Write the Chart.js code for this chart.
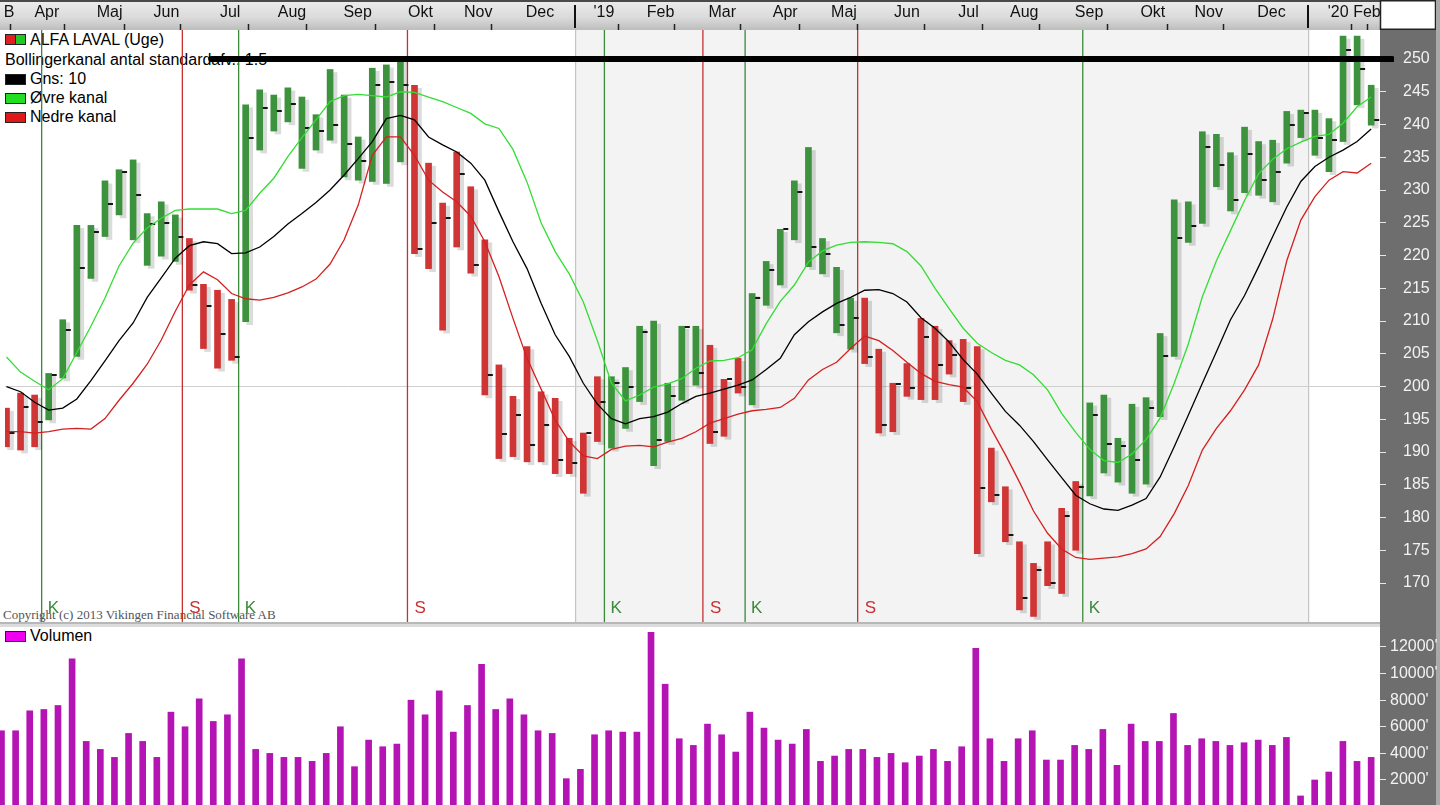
<!DOCTYPE html>
<html lang="da">
<head>
<meta charset="utf-8">
<title>ALFA LAVAL (Uge)</title>
<script src="https://cdn.jsdelivr.net/npm/chart.js@4.4.1/dist/chart.umd.min.js"></script>
<style>
html,body{margin:0;padding:0;background:#fff;}
body{width:1440px;height:805px;overflow:hidden;position:relative;font-family:"Liberation Sans",Arial,sans-serif;}
canvas{position:absolute;left:0;z-index:1;}
#priceCanvas{top:0;}
#volCanvas{top:627px;}
.lg{position:absolute;z-index:0;font-size:16px;line-height:18px;color:#000;white-space:nowrap;}
.sw{position:absolute;left:5px;width:19px;height:9px;border:1px solid #222;z-index:0;}
#copy{position:absolute;z-index:0;left:3px;top:607px;font-family:"Liberation Serif","Times New Roman",serif;font-size:13px;color:#555;white-space:nowrap;}
</style>
</head>
<body>
<div class="sw" style="top:34px;background:linear-gradient(90deg,#e02020 0,#e02020 45%,#222 45%,#222 55%,#22c822 55%)"></div>
<div class="lg" style="left:30px;top:31px">ALFA LAVAL (Uge)</div>
<div class="lg" style="left:5px;top:51px">Bollingerkanal antal standardafv.: 1.5</div>
<div class="sw" style="top:74px;background:#000"></div>
<div class="lg" style="left:30px;top:70px">Gns: 10</div>
<div class="sw" style="top:93px;background:#22dd22"></div>
<div class="lg" style="left:30px;top:89px">Øvre kanal</div>
<div class="sw" style="top:112px;background:#e01818"></div>
<div class="lg" style="left:30px;top:108px">Nedre kanal</div>
<div id="copy">Copyright (c) 2013 Vikingen Financial Software AB</div>
<div class="sw" style="top:631px;background:#f000f0"></div>
<div class="lg" style="left:30px;top:627px">Volumen</div>

<canvas id="priceCanvas" width="1440" height="627"></canvas>
<canvas id="volCanvas" width="1440" height="178"></canvas>

<script>
// ---------- DATA (weekly bars, index 0..97) ----------
const lows = [190.8,190.3,190.8,194.9,201.3,204.6,216.5,222.9,226.2,222.4,
  218.5,219.9,219.1,214.7,205.8,202.8,204.0,209.9,236.1,239.0,
  240.4,233.3,236.1,237.6,232.0,231.5,231.3,231.0,234.3,220.3,
  218.0,208.6,221.3,217.3,198.7,189.0,189.3,188.5,188.5,186.7,
  186.7,183.7,191.6,190.6,193.6,197.7,187.9,191.6,197.9,200.2,
  191.3,192.4,199.0,197.2,212.4,215.5,222.4,218.3,217.2,208.2,
  205.7,203.5,192.9,193.1,198.5,198.0,198.0,201.9,197.7,174.5,
  182.4,176.3,165.9,164.9,169.6,168.4,175.0,183.3,186.8,185.4,
  183.7,185.1,195.4,204.6,222.0,224.9,230.5,226.8,229.6,229.2,
  228.2,234.1,238.0,235.3,232.8,237.4,243.0,239.9];
const highs = [196.7,199.0,198.7,202.0,210.2,224.6,224.6,231.4,233.1,234.6,
  226.4,228.2,226.2,222.6,215.6,214.7,213.3,243.0,245.3,244.5,
  245.6,244.2,241.5,248.4,244.5,238.1,248.6,249.1,250.0,246.0,
  234.1,228.0,235.8,230.5,222.4,203.3,198.5,206.1,199.2,198.2,
  192.1,192.9,201.5,201.5,202.9,209.2,210.0,200.5,209.2,209.2,
  206.3,201.1,204.3,214.2,219.1,224.0,231.4,236.5,222.6,218.2,
  213.5,213.5,205.7,200.5,203.5,210.4,209.2,207.0,207.2,206.1,
  190.6,184.7,176.3,173.0,176.3,181.4,185.5,197.5,198.7,192.1,
  197.3,198.3,208.1,228.5,228.2,238.9,238.5,235.7,239.6,237.4,
  237.6,242.0,242.2,242.2,240.9,253.5,253.5,246.0];
const closes = [192.9,196.9,194.6,201.7,208.6,218.1,223.6,227.9,232.8,229.3,
  224.8,225.0,222.9,215.5,212.3,208.0,204.5,238.0,242.5,242.0,
  243.2,239.5,239.0,240.0,237.0,234.5,246.0,246.5,246.0,221.0,
  224.9,225.8,232.5,218.5,201.8,192.7,195.6,191.1,194.1,188.8,
  188.3,192.9,197.7,200.5,200.0,208.4,191.8,198.5,209.1,202.1,
  193.1,201.1,200.0,213.5,217.8,224.0,229.7,221.3,220.3,209.4,
  210.4,204.5,194.1,200.4,199.7,207.6,203.3,204.8,199.8,184.5,
  183.4,177.3,167.7,172.0,170.0,180.2,184.6,195.6,191.2,190.9,
  188.8,196.7,204.7,222.6,224.5,236.6,233.8,228.4,235.5,231.6,
  232.8,239.9,241.7,238.0,237.6,251.4,248.4,240.7];
const ma10 = [200.0,199.2,197.6,196.4,196.7,198.1,200.9,203.9,207.0,209.7,
  213.6,216.6,219.6,221.5,222.1,221.8,220.3,220.4,221.3,222.9,
  224.8,226.4,228.1,230.0,232.3,234.8,237.4,240.9,241.4,240.7,
  238.1,236.9,235.8,234.1,231.5,226.7,222.1,218.0,212.7,207.9,
  204.6,200.5,197.3,195.1,194.3,195.1,195.4,196.1,197.4,198.5,
  199.0,199.6,200.2,201.0,202.6,204.3,207.9,209.9,211.4,212.7,
  213.6,214.7,214.8,214.2,212.9,210.5,208.9,206.8,204.1,201.9,
  199.0,196.2,194.1,191.6,188.8,186.1,183.4,182.1,181.3,181.1,
  181.9,182.9,186.2,190.8,195.6,200.5,205.3,210.2,213.9,218.3,
  222.9,227.4,231.3,233.6,235.0,236.1,237.4,239.3];
const upperBand = [204.5,202.2,200.8,199.5,201.2,205.2,209.2,213.5,218.4,221.9,
  224.2,225.7,226.9,227.1,227.1,227.1,226.4,226.9,229.5,231.8,
  235.1,238.0,240.7,243.5,244.4,244.6,244.4,244.2,245.0,244.9,
  244.2,243.5,242.6,241.7,240.1,239.4,236.2,231.2,225.0,220.6,
  217.2,212.9,207.0,200.5,197.8,198.7,199.9,200.4,201.2,202.8,
  203.9,204.0,204.4,205.6,209.6,213.0,215.5,219.0,220.7,221.6,
  222.0,222.1,222.0,221.8,220.6,218.4,215.0,211.9,208.9,206.6,
  205.2,204.0,203.3,201.8,199.5,195.9,193.0,190.4,188.7,188.4,
  189.7,191.9,195.2,200.5,206.5,213.7,219.2,223.8,228.4,232.5,
  234.7,236.3,237.3,238.2,238.5,240.2,242.7,244.2];
const lowerBand = [193.1,193.1,192.9,193.1,193.5,193.6,193.5,195.1,197.9,200.5,
  203.4,207.1,211.5,215.5,217.5,216.3,214.2,213.4,213.2,213.6,
  214.3,215.2,216.4,218.7,222.4,227.7,235.3,238.1,238.1,235.3,
  231.5,229.7,228.2,226.0,222.1,216.8,210.4,204.3,199.6,194.9,
  191.6,189.4,189.0,190.4,190.9,191.0,190.8,191.5,192.1,193.1,
  194.4,195.1,195.8,196.3,196.5,196.8,198.2,201.0,202.6,203.7,
  205.8,207.7,207.0,205.5,203.7,202.0,200.8,200.3,199.9,197.7,
  193.5,189.6,185.4,181.0,177.6,175.2,173.9,173.6,173.8,174.0,
  174.5,175.2,177.1,180.6,184.9,190.3,193.6,196.3,199.5,203.3,
  210.3,219.2,225.4,229.0,231.5,232.8,232.6,234.1];
const volume = [5700,5700,7200,7300,7600,11100,4900,4300,3700,5500,
  4900,3700,7100,6000,8100,6400,6900,11100,4300,4000,
  3700,3700,3400,4000,6000,3000,5000,4500,4700,8000,
  6900,8700,5600,7600,10700,7300,8100,6900,5700,5500,
  2100,2800,5400,5700,5600,5600,13100,9200,5100,4600,
  6200,5400,4100,7100,5900,5000,4700,5800,3400,3800,
  4300,4300,3700,4000,3300,3800,4300,3400,4500,11900,
  5100,3400,5100,5700,3500,3500,4600,4300,5800,3100,
  6200,4900,4900,7000,4600,5100,4900,4600,4800,5000,
  4600,5200,800,2000,2600,4900,3400,3700];
const buySignals = [3, 17, 43, 53, 77];     // "K"
const sellSignals = [13, 29, 50, 61];       // "S"
const resistanceLevel = 250;
const resistanceFrom = 14.55, resistanceTo = 98.5;   // week span of the drawn level line
const monthLabels   = ['B','Apr','Maj','Jun','Jul','Aug','Sep','Okt','Nov','Dec',"'19",'Feb','Mar','Apr','Maj','Jun','Jul','Aug','Sep','Okt','Nov','Dec',"'20",'Feb'];
const monthLabelPos = [0.18,2.87,7.33,11.37,15.90,20.29,24.96,29.43,33.53,37.92,42.46,46.49,50.88,55.35,59.53,64.00,68.38,72.34,76.95,81.48,85.45,89.91,94.65,96.70];
const monthTickPos  = [0.39,5.35,9.45,13.42,18.45,22.34,27.44,31.48,35.45,44.51,48.48,53.51,57.40,61.51,66.54,70.43,74.47,79.57,83.54,87.51,96.57];
const yearBounds    = [40.40, 92.53];
const priceTicks  = [170,175,180,185,190,195,200,205,210,215,220,225,230,235,240,245,250];
const volumeTicks = [2000,4000,6000,8000,10000,12000];

// ---------- layout constants ----------
const X_MIN = -0.106, X_MAX = 97.627;
const P_MIN = 164.05, P_MAX = 254.43;
const V_MIN = 120, V_MAX = 13500;
const GREEN = '#3d923d', RED = '#cf3535';

Chart.defaults.font.family = "'Liberation Sans', Arial, sans-serif";

const allSignals = buySignals.map(i => [i, 'K']).concat(sellSignals.map(i => [i, 'S'])).sort((a, b) => a[0] - b[0]);
const barColors = lows.map((_, i) => {
  let st = 'S';
  allSignals.forEach(s => { if (s[0] <= i) st = s[1]; });
  return st === 'K' ? GREEN : RED;
});

const tickImg = document.createElement('canvas');
tickImg.width = 18; tickImg.height = 2;
const tctx = tickImg.getContext('2d');
tctx.fillStyle = '#151515'; tctx.fillRect(12, 0, 5, 2);

const headerTicks = monthLabelPos.map((v, i) => ({ value: v, lbl: monthLabels[i] }))
  .concat(monthTickPos.map(v => ({ value: v, lbl: '' })))
  .sort((a, b) => a.value - b.value);

const shadowPlugin = {
  id: 'shadowPlugin',
  beforeDatasetDraw(chart, args) {
    const ds = chart.data.datasets[args.index];
    if (ds.shadow) {
      const c = chart.ctx; c.save();
      c.shadowColor = 'rgba(0,0,0,0.14)'; c.shadowOffsetX = 4; c.shadowOffsetY = 3; c.shadowBlur = 0;
    }
  },
  afterDatasetDraw(chart, args) {
    const ds = chart.data.datasets[args.index];
    if (ds.shadow) chart.ctx.restore();
  }
};

const pricePanel = {
  id: 'pricePanel',
  beforeDraw(chart) {
    const c = chart.ctx, a = chart.chartArea, xs = chart.scales.x;
    c.save();
    const x0 = xs.getPixelForValue(yearBounds[0]), x1 = xs.getPixelForValue(yearBounds[1]);
    c.fillStyle = '#f3f3f3'; c.fillRect(x0, a.top, x1 - x0, a.bottom - a.top);
    c.fillStyle = '#c4c4c4';
    yearBounds.forEach(v => c.fillRect(Math.round(xs.getPixelForValue(v)), a.top, 1.2, a.bottom - a.top));
    const g = c.createLinearGradient(0, 0, 0, 30);
    g.addColorStop(0, '#ededed'); g.addColorStop(0.6, '#dadada'); g.addColorStop(1, '#bdbdbd');
    c.fillStyle = g; c.fillRect(0, 0, a.right, 30);
    c.fillStyle = '#4a4a4a'; c.fillRect(0, 0, a.right, 2);
    c.fillStyle = '#fff'; c.fillRect(a.right, 0, 56, 30);
    c.strokeStyle = '#222'; c.lineWidth = 1.5; c.strokeRect(a.right + 0.5, 0.75, 55, 28.5);
    c.fillStyle = '#6e6e6e'; c.fillRect(a.right, 30, 56, chart.height - 30);
    c.fillStyle = '#a9a9a9'; c.fillRect(a.right + 56, 0, 4, chart.height);
    c.restore();
  },
  afterDraw(chart) {
    const c = chart.ctx, a = chart.chartArea, xs = chart.scales.x;
    c.save();
    c.fillStyle = '#111';
    yearBounds.forEach(v => c.fillRect(Math.round(xs.getPixelForValue(v)) - 1, 5, 2, 23));
    c.font = "17px 'Liberation Sans', Arial, sans-serif";
    c.textBaseline = 'alphabetic';
    buySignals.forEach(i => { c.fillStyle = '#3a8a3a'; c.fillText('K', xs.getPixelForValue(i - 0.5) + 6, 613); });
    sellSignals.forEach(i => { c.fillStyle = '#c83030'; c.fillText('S', xs.getPixelForValue(i - 0.5) + 7, 613); });
    c.fillStyle = '#b8b8b8'; c.fillRect(0, a.bottom, a.right, 2);
    c.fillStyle = '#dcdcdc'; c.fillRect(0, a.bottom + 2, a.right, 3);
    c.restore();
  }
};

const volPanel = {
  id: 'volPanel',
  beforeDraw(chart) {
    const c = chart.ctx, a = chart.chartArea;
    c.save();
    c.fillStyle = '#6e6e6e'; c.fillRect(a.right, 0, 56, chart.height);
    c.fillStyle = '#a9a9a9'; c.fillRect(a.right + 56, 0, 4, chart.height);
    c.restore();
  }
};

const signalDatasets = buySignals.map(i => ({ c: '#3a8a3a', i })).concat(sellSignals.map(i => ({ c: '#c83030', i })))
  .map(s => ({
    type: 'line', order: 20, data: [{ x: s.i - 0.5, y: P_MIN }, { x: s.i - 0.5, y: P_MAX }],
    borderColor: s.c, borderWidth: 1.3, pointRadius: 0
  }));

new Chart(document.getElementById('priceCanvas'), {
  type: 'bar',
  data: {
    datasets: [
      { type: 'line', order: 1, data: [{ x: resistanceFrom, y: resistanceLevel }, { x: resistanceTo, y: resistanceLevel }],
        borderColor: '#000', borderWidth: 6, borderCapStyle: 'round', pointRadius: 0,
        clip: { left: 0, top: 0, right: 14, bottom: 0 } },
      { type: 'line', order: 2, data: ma10.map((v, i) => ({ x: i, y: v })), borderColor: '#000', borderWidth: 1.3, pointRadius: 0 },
      { type: 'line', order: 2, data: upperBand.map((v, i) => ({ x: i, y: v })), borderColor: '#33dd33', borderWidth: 1.3, pointRadius: 0 },
      { type: 'line', order: 2, data: lowerBand.map((v, i) => ({ x: i, y: v })), borderColor: '#d42020', borderWidth: 1.3, pointRadius: 0 },
      { type: 'line', order: 4, showLine: false, data: closes.map((v, i) => ({ x: i, y: v })),
        pointStyle: tickImg, pointRadius: 4 },
      { type: 'bar', order: 5, shadow: true, data: lows.map((l, i) => ({ x: i, y: [l, highs[i]] })),
        backgroundColor: barColors, barThickness: 6, borderWidth: 0 },
      ...signalDatasets
    ]
  },
  options: {
    responsive: false, animation: false, devicePixelRatio: 1, events: [],
    layout: { padding: { left: 0, right: 0, top: 0, bottom: 5 } },
    plugins: { legend: { display: false }, tooltip: { enabled: false } },
    scales: {
      x: {
        type: 'linear', position: 'top', min: X_MIN, max: X_MAX, offset: false,
        afterBuildTicks: s => { s.ticks = headerTicks.map(t => ({ value: t.value, lbl: t.lbl })); },
        afterFit: s => { s.height = 30; s.paddingLeft = 0; s.paddingRight = 0; },
        ticks: { autoSkip: false, maxRotation: 0, minRotation: 0, padding: 2, color: '#111',
                 font: { size: 16 }, callback: (v, i, t) => t[i].lbl },
        grid: { drawOnChartArea: false, drawTicks: true, tickLength: 6, tickWidth: 1.5,
                tickColor: ctx => (ctx.tick && ctx.tick.lbl) ? 'rgba(0,0,0,0)' : '#222' },
        border: { display: false }
      },
      y: {
        type: 'linear', position: 'right', min: P_MIN, max: P_MAX,
        afterBuildTicks: s => { s.ticks = priceTicks.map(v => ({ value: v })); },
        afterFit: s => { s.width = 60; s.paddingTop = 0; s.paddingBottom = 0; },
        ticks: { color: '#f2f2f2', padding: 17, font: { size: 16 }, callback: v => String(v) },
        grid: { drawOnChartArea: true, tickLength: 6, tickColor: '#e8e8e8', tickWidth: 1,
                color: ctx => (ctx.tick && ctx.tick.value === 200) ? '#cfcfcf' : 'rgba(0,0,0,0)' },
        border: { display: false }
      }
    }
  },
  plugins: [pricePanel, shadowPlugin]
});

new Chart(document.getElementById('volCanvas'), {
  type: 'bar',
  data: {
    datasets: [{ data: volume.map((v, i) => ({ x: i, y: v })), backgroundColor: '#b414b4', barThickness: 6, borderWidth: 0 }]
  },
  options: {
    responsive: false, animation: false, devicePixelRatio: 1, events: [],
    layout: { padding: 0 },
    plugins: { legend: { display: false }, tooltip: { enabled: false } },
    scales: {
      x: { type: 'linear', display: false, min: X_MIN, max: X_MAX, offset: false },
      y: {
        type: 'linear', position: 'right', min: V_MIN, max: V_MAX,
        afterBuildTicks: s => { s.ticks = volumeTicks.map(v => ({ value: v })); },
        afterFit: s => { s.width = 60; s.paddingTop = 0; s.paddingBottom = 0; },
        ticks: { color: '#f2f2f2', padding: 4, font: { size: 16 }, callback: v => v + "'" },
        grid: { drawOnChartArea: false, tickLength: 6, tickColor: '#e8e8e8' },
        border: { display: false }
      }
    }
  },
  plugins: [volPanel]
});
</script>
</body>
</html>
